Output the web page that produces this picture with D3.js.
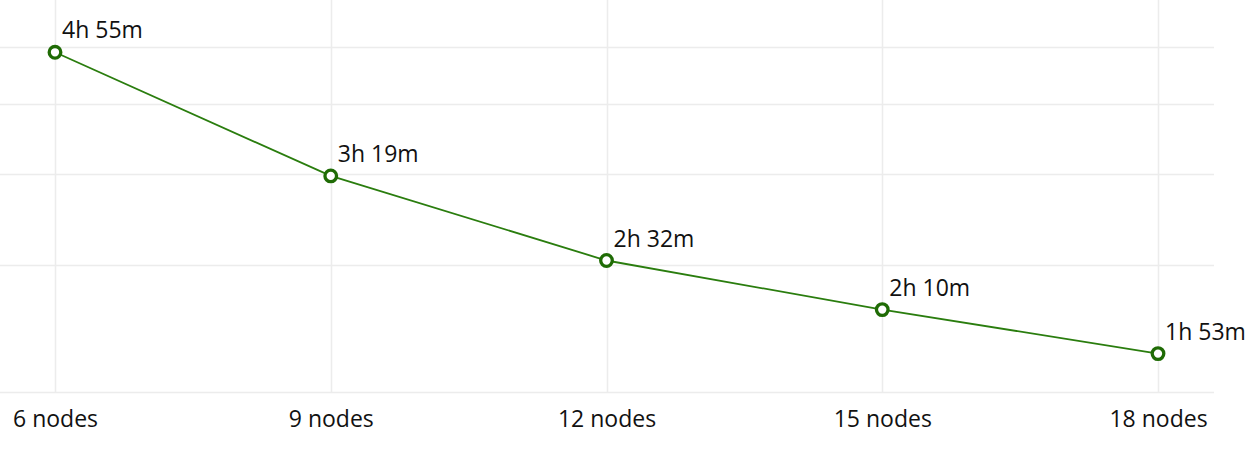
<!DOCTYPE html>
<html><head><meta charset="utf-8">
<script src="https://cdn.jsdelivr.net/npm/d3@7"></script>
<style>
html,body{margin:0;padding:0;background:#fff;}
svg{display:block;font-family:"Open Sans",sans-serif;}
</style></head>
<body>
<svg id="chart" width="1247" height="454"></svg>
<script>
const categories = ["6 nodes","9 nodes","12 nodes","15 nodes","18 nodes"];
const minutes = [295, 199, 152, 130, 113];
const valueLabels = ["4h 55m","3h 19m","2h 32m","2h 10m","1h 53m"];
const yTickValues = [100, 150, 200, 250, 300];

const svg = d3.select("#chart");
const x = d3.scalePoint().domain(categories).range([55, 1158]);
const y = d3.scaleLog().domain([100, 300]).range([392, 47]);

// horizontal grid
svg.append("g").selectAll("line").data(yTickValues).join("line")
  .attr("x1", 0).attr("x2", 1214)
  .attr("y1", d => Math.round(y(d)) + 0.5).attr("y2", d => Math.round(y(d)) + 0.5)
  .attr("stroke", "#ececec").attr("stroke-width", 1.5);

// vertical grid
svg.append("g").selectAll("line").data(categories).join("line")
  .attr("x1", d => Math.round(x(d)) + 0.5).attr("x2", d => Math.round(x(d)) + 0.5)
  .attr("y1", 0).attr("y2", y(100))
  .attr("stroke", "#ececec").attr("stroke-width", 1.5);

// x axis labels
const xAxis = d3.axisBottom(x).tickSize(0).tickPadding(0);
const gx = svg.append("g").attr("transform", `translate(0,${y(100)})`).call(xAxis);
gx.select(".domain").remove();
gx.selectAll("text").attr("font-size", 23).attr("font-family", "'Open Sans',sans-serif")
  .attr("fill", "#111").attr("y", 35).attr("dy", null);

const data = categories.map((c, i) => ({c, v: minutes[i], label: valueLabels[i]}));

svg.append("path").datum(data)
  .attr("fill", "none").attr("stroke", "#2a7d0e").attr("stroke-width", 1.8)
  .attr("d", d3.line().x(d => x(d.c)).y(d => y(d.v)));

svg.append("g").selectAll("circle").data(data).join("circle")
  .attr("cx", d => x(d.c)).attr("cy", d => y(d.v)).attr("r", 5.8)
  .attr("fill", "#fff").attr("stroke", "#1f6b05").attr("stroke-width", 3.3);

svg.append("g").selectAll("text").data(data).join("text")
  .attr("x", d => x(d.c) + 7).attr("y", d => y(d.v) - 14)
  .attr("font-size", 23).attr("fill", "#111")
  .text(d => d.label);
</script>
</body></html>
